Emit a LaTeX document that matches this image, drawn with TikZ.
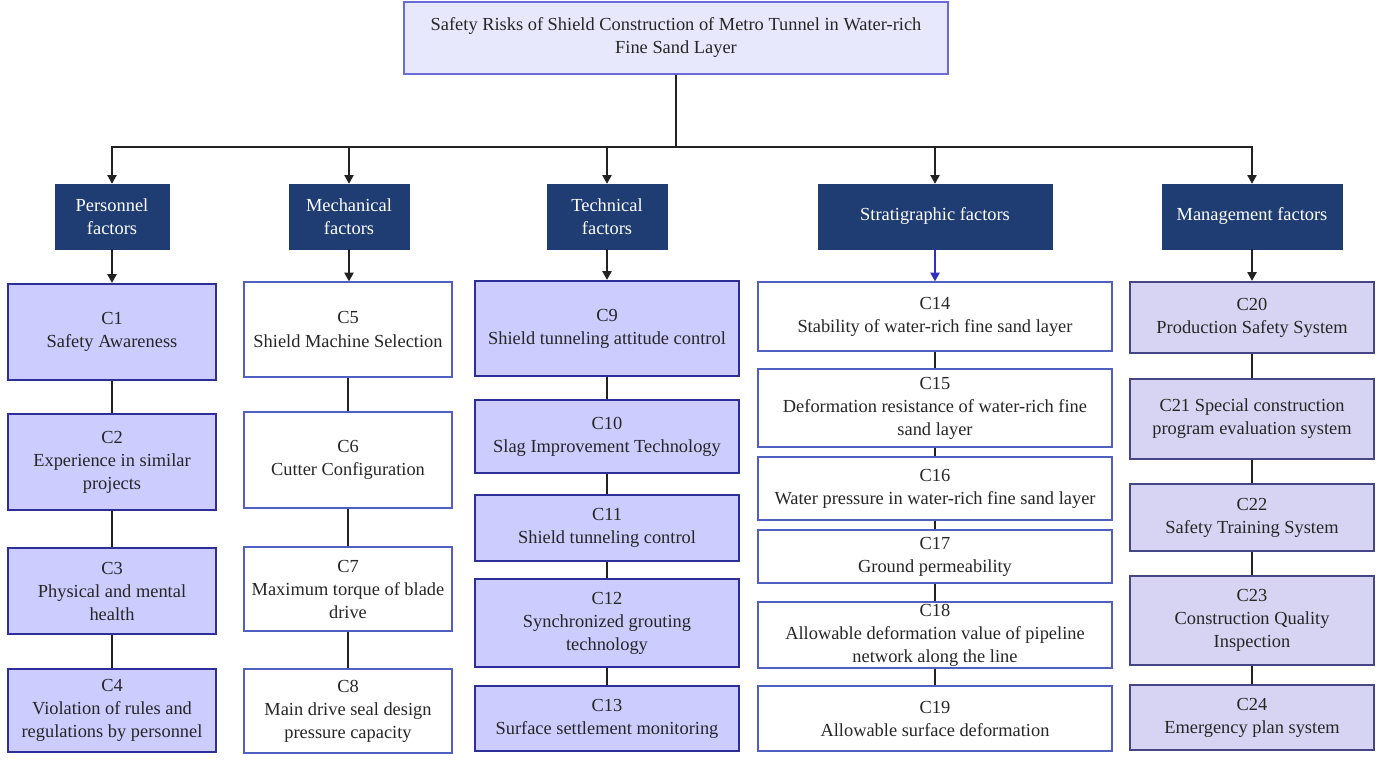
\documentclass[tikz,border=0pt]{standalone}
\usepackage{fontspec}
\setmainfont{Liberation Serif}
\newfontfamily\tnr{Liberation Serif}
\usetikzlibrary{arrows.meta}
\definecolor{navy}{RGB}{31,61,115}
\definecolor{lavA}{RGB}{204,204,255}
\definecolor{lavAb}{RGB}{46,46,153}
\definecolor{lavB}{RGB}{214,212,242}
\definecolor{lavBb}{RGB}{70,70,135}
\definecolor{thinb}{RGB}{80,96,192}
\definecolor{titlef}{RGB}{232,232,252}
\definecolor{titleb}{RGB}{106,106,216}
\definecolor{linec}{RGB}{34,34,34}
\definecolor{bluearrow}{RGB}{48,48,192}
\newcommand\bx[7]{\node[#6, minimum width={(#4-#2)*0.75pt}, minimum height={(#5-#3)*0.75pt}] (#1) at ({(#2+#4)/2},{(#3+#5)/2}) {#7};}
\tikzset{
  base/.style={rectangle, inner sep=0pt, align=center, font=\tnr\fontsize{13.8}{17.25}\selectfont, text=black!85},
  titlebox/.style={base, fill=titlef, draw=titleb, line width=0.9pt},
  catbox/.style={base, fill=navy, draw=navy, text=white},
  boxA/.style={base, fill=lavA, draw=lavAb, line width=1.8pt},
  boxB/.style={base, fill=lavB, draw=lavBb, line width=1.8pt},
  boxW/.style={base, fill=white, draw=thinb, line width=1pt},
  link/.style={draw=linec, line width=0.9pt},
  arr/.style={link, -{Triangle[length=6.5pt,width=7pt]}},
}
\begin{document}
\begin{tikzpicture}[x=0.75pt,y=-0.75pt]
\useasboundingbox (0,0) rectangle (1383,762);
% title
\bx{title}{404}{2}{948}{74}{titlebox}{Safety Risks of Shield Construction of Metro Tunnel in Water-rich\\Fine Sand Layer}
% categories
\bx{cat1}{55}{184}{169}{249}{catbox}{Personnel\\factors}
\bx{cat2}{289}{184}{409}{249}{catbox}{Mechanical\\factors}
\bx{cat3}{547}{184}{667}{249}{catbox}{Technical\\factors}
\bx{cat4}{818}{184}{1052}{249}{catbox}{Stratigraphic factors}
\bx{cat5}{1162}{184}{1342}{249}{catbox}{Management factors}
% column 1
\bx{C1}{8}{284}{216}{380}{boxA}{C1\\Safety Awareness}
\bx{C2}{8}{414}{216}{510}{boxA}{C2\\Experience in similar\\projects}
\bx{C3}{8}{548}{216}{634}{boxA}{C3\\Physical and mental\\health}
\bx{C4}{8}{669}{216}{752}{boxA}{C4\\Violation of rules and\\regulations by personnel}
% column 2
\bx{C5}{244}{282}{452}{377}{boxW}{C5\\Shield Machine Selection}
\bx{C6}{244}{412}{452}{508}{boxW}{C6\\Cutter Configuration}
\bx{C7}{244}{547}{452}{631}{boxW}{C7\\Maximum torque of blade\\drive}
\bx{C8}{244}{669}{452}{753}{boxW}{C8\\Main drive seal design\\pressure capacity}
% column 3
\bx{C9}{475}{281}{739}{376}{boxA}{C9\\Shield tunneling attitude control}
\bx{C10}{475}{400}{739}{473}{boxA}{C10\\Slag Improvement Technology}
\bx{C11}{475}{495}{739}{561}{boxA}{C11\\Shield tunneling control}
\bx{C12}{475}{579}{739}{667}{boxA}{C12\\Synchronized grouting\\technology}
\bx{C13}{475}{686}{739}{751}{boxA}{C13\\Surface settlement monitoring}
% column 4
\bx{C14}{758}{282}{1112}{351}{boxW}{C14\\Stability of water-rich fine sand layer}
\bx{C15}{758}{369}{1112}{447}{boxW}{C15\\Deformation resistance of water-rich fine\\sand layer}
\bx{C16}{758}{457}{1112}{520}{boxW}{C16\\Water pressure in water-rich fine sand layer}
\bx{C17}{758}{530}{1112}{583}{boxW}{C17\\Ground permeability}
\bx{C18}{758}{602}{1112}{668}{boxW}{C18\\Allowable deformation value of pipeline\\network along the line}
\bx{C19}{758}{686}{1112}{751}{boxW}{C19\\Allowable surface deformation}
% column 5
\bx{C20}{1130}{282}{1374}{353}{boxB}{C20\\Production Safety System}
\bx{C21}{1130}{379}{1374}{459}{boxB}{C21 Special construction\\program evaluation system}
\bx{C22}{1130}{484}{1374}{551}{boxB}{C22\\Safety Training System}
\bx{C23}{1130}{576}{1374}{665}{boxB}{C23\\Construction Quality\\Inspection}
\bx{C24}{1130}{685}{1374}{750}{boxB}{C24\\Emergency plan system}
% tree connectors
\coordinate (bar) at (676,147);
\draw[link] (title.south -| bar) -- (bar);
\foreach \k in {cat1,cat2,cat3,cat4,cat5} \draw[arr] (bar) -| (\k.north);
\draw[arr] (cat1.south) -- (cat1.south |- C1.north);
\draw[arr] (cat2.south) -- (cat2.south |- C5.north);
\draw[arr] (cat3.south) -- (cat3.south |- C9.north);
\draw[arr, draw=bluearrow] (cat4.south) -- (cat4.south |- C14.north);
\draw[arr] (cat5.south) -- (cat5.south |- C20.north);
% column links
\foreach \a/\b in {C1/C2,C2/C3,C3/C4,C5/C6,C6/C7,C7/C8,C9/C10,C10/C11,C11/C12,C12/C13,C14/C15,C15/C16,C16/C17,C17/C18,C18/C19,C20/C21,C21/C22,C22/C23,C23/C24}
  \draw[link] (\a.south) -- (\b.north);
\end{tikzpicture}
\end{document}
